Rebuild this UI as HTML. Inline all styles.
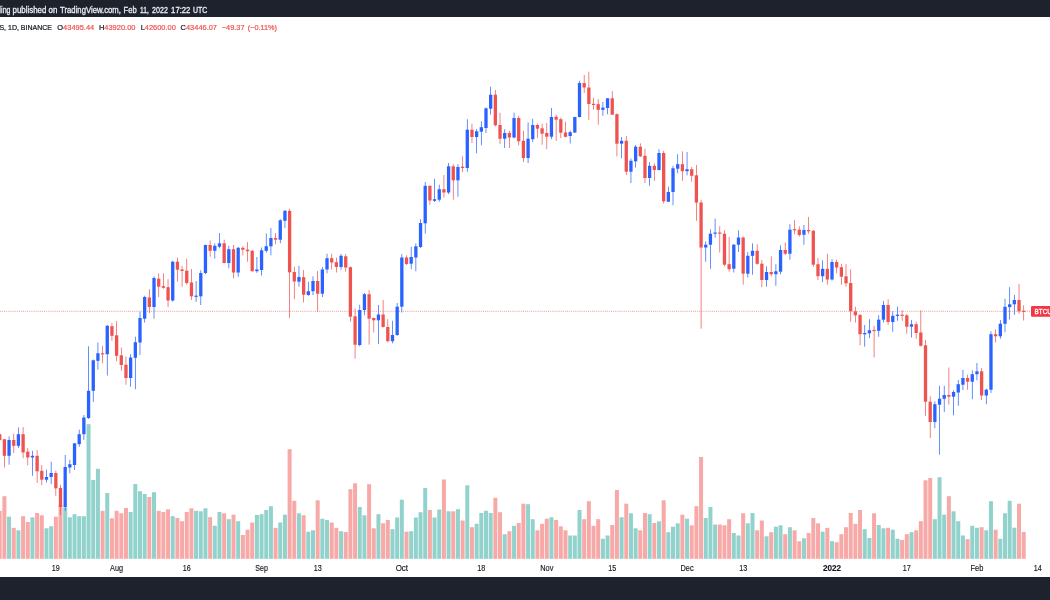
<!DOCTYPE html>
<html><head><meta charset="utf-8"><title>BTCUSD chart</title>
<style>
html,body{margin:0;padding:0;background:#fff;}
body{width:1050px;height:600px;overflow:hidden;position:relative;font-family:"Liberation Sans",sans-serif;}
#top{position:absolute;left:0;top:0;width:1050px;height:17.3px;background:#1e222d;}
#bot{position:absolute;left:0;top:576.7px;width:1050px;height:23.3px;background:#1e222d;}
svg{position:absolute;left:0;top:0;will-change:transform;}
svg .hd text{font-size:8.4px;fill:#eceef2;stroke:#eceef2;stroke-width:0.3px;}
svg .lg text{stroke:#131722;stroke-width:0.22px;}
svg .lg .r{stroke:#ef5350;}
svg .r{fill:#ef5350;}
svg .xl text{font-size:8.3px;stroke:#131722;stroke-width:0.15px;}
svg .tg text{font-size:7.7px;fill:#fff;stroke:#fff;stroke-width:0.3px;}
svg text{font-family:"Liberation Sans",sans-serif;font-size:7.6px;fill:#131722;}
</style></head><body>
<div id="top"></div>
<svg width="1050" height="600" viewBox="0 0 1050 600">
<defs><filter id="bl" x="0" y="0" width="1050" height="600" filterUnits="userSpaceOnUse"><feGaussianBlur stdDeviation="0.32"/></filter></defs>
<g><rect x="-2.28" y="510.8" width="4" height="48" fill="#f7a9a7"/><rect x="2.4" y="496.2" width="4" height="62.6" fill="#f7a9a7"/><rect x="7.07" y="516.7" width="4" height="42.1" fill="#92d2cc"/><rect x="11.75" y="527.8" width="4" height="31" fill="#f7a9a7"/><rect x="16.42" y="530.3" width="4" height="28.5" fill="#92d2cc"/><rect x="21.1" y="516.2" width="4" height="42.6" fill="#f7a9a7"/><rect x="25.78" y="522" width="4" height="36.8" fill="#f7a9a7"/><rect x="30.45" y="517.3" width="4" height="41.5" fill="#92d2cc"/><rect x="35.13" y="513" width="4" height="45.8" fill="#f7a9a7"/><rect x="39.8" y="515.3" width="4" height="43.5" fill="#f7a9a7"/><rect x="44.48" y="528.3" width="4" height="30.5" fill="#92d2cc"/><rect x="49.15" y="526.3" width="4" height="32.5" fill="#92d2cc"/><rect x="53.83" y="516.7" width="4" height="42.1" fill="#f7a9a7"/><rect x="58.51" y="505" width="4" height="53.8" fill="#f7a9a7"/><rect x="63.18" y="507.5" width="4" height="51.3" fill="#92d2cc"/><rect x="67.86" y="517.3" width="4" height="41.5" fill="#92d2cc"/><rect x="72.53" y="514.2" width="4" height="44.6" fill="#92d2cc"/><rect x="77.21" y="516.2" width="4" height="42.6" fill="#92d2cc"/><rect x="81.88" y="516.2" width="4" height="42.6" fill="#92d2cc"/><rect x="86.56" y="424.2" width="4" height="134.6" fill="#92d2cc"/><rect x="91.24" y="480" width="4" height="78.8" fill="#92d2cc"/><rect x="95.91" y="468.8" width="4" height="90" fill="#92d2cc"/><rect x="100.59" y="510.8" width="4" height="48" fill="#f7a9a7"/><rect x="105.26" y="493" width="4" height="65.8" fill="#92d2cc"/><rect x="109.94" y="518.3" width="4" height="40.5" fill="#f7a9a7"/><rect x="114.61" y="510.8" width="4" height="48" fill="#f7a9a7"/><rect x="119.29" y="513.3" width="4" height="45.5" fill="#f7a9a7"/><rect x="123.97" y="508" width="4" height="50.8" fill="#f7a9a7"/><rect x="128.64" y="512" width="4" height="46.8" fill="#92d2cc"/><rect x="133.32" y="484" width="4" height="74.8" fill="#92d2cc"/><rect x="137.99" y="491.2" width="4" height="67.6" fill="#92d2cc"/><rect x="142.67" y="494" width="4" height="64.8" fill="#92d2cc"/><rect x="147.34" y="497" width="4" height="61.8" fill="#f7a9a7"/><rect x="152.02" y="492.2" width="4" height="66.6" fill="#92d2cc"/><rect x="156.7" y="510.8" width="4" height="48" fill="#f7a9a7"/><rect x="161.37" y="512" width="4" height="46.8" fill="#f7a9a7"/><rect x="166.05" y="509.3" width="4" height="49.5" fill="#f7a9a7"/><rect x="170.72" y="516.2" width="4" height="42.6" fill="#92d2cc"/><rect x="175.4" y="518" width="4" height="40.8" fill="#f7a9a7"/><rect x="180.07" y="521.2" width="4" height="37.6" fill="#f7a9a7"/><rect x="184.75" y="512" width="4" height="46.8" fill="#f7a9a7"/><rect x="189.43" y="508.3" width="4" height="50.5" fill="#f7a9a7"/><rect x="194.1" y="510.8" width="4" height="48" fill="#92d2cc"/><rect x="198.78" y="511.3" width="4" height="47.5" fill="#92d2cc"/><rect x="203.45" y="508.3" width="4" height="50.5" fill="#92d2cc"/><rect x="208.13" y="517.2" width="4" height="41.6" fill="#f7a9a7"/><rect x="212.8" y="525.8" width="4" height="33" fill="#92d2cc"/><rect x="217.48" y="512" width="4" height="46.8" fill="#92d2cc"/><rect x="222.16" y="513.3" width="4" height="45.5" fill="#f7a9a7"/><rect x="226.83" y="519.2" width="4" height="39.6" fill="#92d2cc"/><rect x="231.51" y="514.7" width="4" height="44.1" fill="#f7a9a7"/><rect x="236.18" y="521.2" width="4" height="37.6" fill="#92d2cc"/><rect x="240.86" y="535" width="4" height="23.8" fill="#f7a9a7"/><rect x="245.53" y="529.7" width="4" height="29.1" fill="#f7a9a7"/><rect x="250.21" y="522.5" width="4" height="36.3" fill="#f7a9a7"/><rect x="254.89" y="515" width="4" height="43.8" fill="#92d2cc"/><rect x="259.56" y="514.2" width="4" height="44.6" fill="#92d2cc"/><rect x="264.24" y="510" width="4" height="48.8" fill="#92d2cc"/><rect x="268.91" y="506.2" width="4" height="52.6" fill="#92d2cc"/><rect x="273.59" y="527.8" width="4" height="31" fill="#f7a9a7"/><rect x="278.26" y="522.5" width="4" height="36.3" fill="#92d2cc"/><rect x="282.94" y="514.7" width="4" height="44.1" fill="#92d2cc"/><rect x="287.62" y="449.2" width="4" height="109.6" fill="#f7a9a7"/><rect x="292.29" y="500.8" width="4" height="58" fill="#f7a9a7"/><rect x="296.97" y="513.3" width="4" height="45.5" fill="#92d2cc"/><rect x="301.64" y="515.3" width="4" height="43.5" fill="#f7a9a7"/><rect x="306.32" y="531.7" width="4" height="27.1" fill="#92d2cc"/><rect x="310.99" y="530.3" width="4" height="28.5" fill="#92d2cc"/><rect x="315.67" y="500.3" width="4" height="58.5" fill="#f7a9a7"/><rect x="320.35" y="518.7" width="4" height="40.1" fill="#92d2cc"/><rect x="325.02" y="520" width="4" height="38.8" fill="#92d2cc"/><rect x="329.7" y="522.5" width="4" height="36.3" fill="#f7a9a7"/><rect x="334.37" y="527.8" width="4" height="31" fill="#f7a9a7"/><rect x="339.05" y="531.2" width="4" height="27.6" fill="#92d2cc"/><rect x="343.72" y="532" width="4" height="26.8" fill="#f7a9a7"/><rect x="348.4" y="489.2" width="4" height="69.6" fill="#f7a9a7"/><rect x="353.07" y="483.3" width="4" height="75.5" fill="#f7a9a7"/><rect x="357.75" y="507" width="4" height="51.8" fill="#92d2cc"/><rect x="362.43" y="515.3" width="4" height="43.5" fill="#92d2cc"/><rect x="367.1" y="484.2" width="4" height="74.6" fill="#f7a9a7"/><rect x="371.78" y="528.3" width="4" height="30.5" fill="#f7a9a7"/><rect x="376.45" y="514.2" width="4" height="44.6" fill="#92d2cc"/><rect x="381.13" y="523.3" width="4" height="35.5" fill="#f7a9a7"/><rect x="385.8" y="520" width="4" height="38.8" fill="#f7a9a7"/><rect x="390.48" y="529.2" width="4" height="29.6" fill="#92d2cc"/><rect x="395.16" y="517.5" width="4" height="41.3" fill="#92d2cc"/><rect x="399.83" y="499.7" width="4" height="59.1" fill="#92d2cc"/><rect x="404.51" y="531.7" width="4" height="27.1" fill="#f7a9a7"/><rect x="409.18" y="531.2" width="4" height="27.6" fill="#92d2cc"/><rect x="413.86" y="517.5" width="4" height="41.3" fill="#92d2cc"/><rect x="418.53" y="512.2" width="4" height="46.6" fill="#92d2cc"/><rect x="423.21" y="488" width="4" height="70.8" fill="#92d2cc"/><rect x="427.89" y="510" width="4" height="48.8" fill="#f7a9a7"/><rect x="432.56" y="517.5" width="4" height="41.3" fill="#92d2cc"/><rect x="437.24" y="509.5" width="4" height="49.3" fill="#92d2cc"/><rect x="441.91" y="479.5" width="4" height="79.3" fill="#f7a9a7"/><rect x="446.59" y="511.3" width="4" height="47.5" fill="#92d2cc"/><rect x="451.26" y="511.3" width="4" height="47.5" fill="#f7a9a7"/><rect x="455.94" y="509.2" width="4" height="49.6" fill="#92d2cc"/><rect x="460.62" y="520.5" width="4" height="38.3" fill="#f7a9a7"/><rect x="465.29" y="485.3" width="4" height="73.5" fill="#92d2cc"/><rect x="469.97" y="527.2" width="4" height="31.6" fill="#f7a9a7"/><rect x="474.64" y="523.8" width="4" height="35" fill="#92d2cc"/><rect x="479.32" y="513" width="4" height="45.8" fill="#92d2cc"/><rect x="483.99" y="510.8" width="4" height="48" fill="#92d2cc"/><rect x="488.67" y="513" width="4" height="45.8" fill="#92d2cc"/><rect x="493.35" y="497.8" width="4" height="61" fill="#f7a9a7"/><rect x="498.02" y="512.2" width="4" height="46.6" fill="#f7a9a7"/><rect x="502.7" y="534.2" width="4" height="24.6" fill="#92d2cc"/><rect x="507.37" y="531.2" width="4" height="27.6" fill="#f7a9a7"/><rect x="512.05" y="525.8" width="4" height="33" fill="#92d2cc"/><rect x="516.72" y="523" width="4" height="35.8" fill="#f7a9a7"/><rect x="521.4" y="503.7" width="4" height="55.1" fill="#f7a9a7"/><rect x="526.08" y="504.2" width="4" height="54.6" fill="#92d2cc"/><rect x="530.75" y="519.2" width="4" height="39.6" fill="#92d2cc"/><rect x="535.43" y="530.3" width="4" height="28.5" fill="#f7a9a7"/><rect x="540.1" y="523.8" width="4" height="35" fill="#f7a9a7"/><rect x="544.78" y="518.7" width="4" height="40.1" fill="#f7a9a7"/><rect x="549.45" y="517.2" width="4" height="41.6" fill="#92d2cc"/><rect x="554.13" y="520" width="4" height="38.8" fill="#f7a9a7"/><rect x="558.81" y="526.3" width="4" height="32.5" fill="#f7a9a7"/><rect x="563.48" y="530.3" width="4" height="28.5" fill="#f7a9a7"/><rect x="568.16" y="535.5" width="4" height="23.3" fill="#92d2cc"/><rect x="572.83" y="535.5" width="4" height="23.3" fill="#92d2cc"/><rect x="577.51" y="510" width="4" height="48.8" fill="#92d2cc"/><rect x="582.18" y="519.2" width="4" height="39.6" fill="#f7a9a7"/><rect x="586.86" y="501.2" width="4" height="57.6" fill="#f7a9a7"/><rect x="591.54" y="525.8" width="4" height="33" fill="#f7a9a7"/><rect x="596.21" y="519.2" width="4" height="39.6" fill="#f7a9a7"/><rect x="600.89" y="538.8" width="4" height="20" fill="#92d2cc"/><rect x="605.56" y="535.5" width="4" height="23.3" fill="#92d2cc"/><rect x="610.24" y="525" width="4" height="33.8" fill="#f7a9a7"/><rect x="614.91" y="490" width="4" height="68.8" fill="#f7a9a7"/><rect x="619.59" y="517.2" width="4" height="41.6" fill="#92d2cc"/><rect x="624.27" y="503.7" width="4" height="55.1" fill="#f7a9a7"/><rect x="628.94" y="513.3" width="4" height="45.5" fill="#92d2cc"/><rect x="633.62" y="528.3" width="4" height="30.5" fill="#92d2cc"/><rect x="638.29" y="530.3" width="4" height="28.5" fill="#f7a9a7"/><rect x="642.97" y="513" width="4" height="45.8" fill="#f7a9a7"/><rect x="647.64" y="514.2" width="4" height="44.6" fill="#92d2cc"/><rect x="652.32" y="523" width="4" height="35.8" fill="#f7a9a7"/><rect x="657" y="521.3" width="4" height="37.5" fill="#92d2cc"/><rect x="661.67" y="500.3" width="4" height="58.5" fill="#f7a9a7"/><rect x="666.35" y="532.2" width="4" height="26.6" fill="#92d2cc"/><rect x="671.02" y="526.7" width="4" height="32.1" fill="#92d2cc"/><rect x="675.7" y="523.3" width="4" height="35.5" fill="#92d2cc"/><rect x="680.37" y="514.7" width="4" height="44.1" fill="#f7a9a7"/><rect x="685.05" y="518.7" width="4" height="40.1" fill="#92d2cc"/><rect x="689.73" y="525.3" width="4" height="33.5" fill="#f7a9a7"/><rect x="694.4" y="506.2" width="4" height="52.6" fill="#f7a9a7"/><rect x="699.08" y="457" width="4" height="101.8" fill="#f7a9a7"/><rect x="703.75" y="518" width="4" height="40.8" fill="#92d2cc"/><rect x="708.43" y="507" width="4" height="51.8" fill="#92d2cc"/><rect x="713.1" y="524.5" width="4" height="34.3" fill="#92d2cc"/><rect x="717.78" y="524.5" width="4" height="34.3" fill="#f7a9a7"/><rect x="722.46" y="525.3" width="4" height="33.5" fill="#f7a9a7"/><rect x="727.13" y="519.2" width="4" height="39.6" fill="#f7a9a7"/><rect x="731.81" y="533" width="4" height="25.8" fill="#92d2cc"/><rect x="736.48" y="535.5" width="4" height="23.3" fill="#92d2cc"/><rect x="741.16" y="513.3" width="4" height="45.5" fill="#f7a9a7"/><rect x="745.83" y="523.3" width="4" height="35.5" fill="#92d2cc"/><rect x="750.51" y="513" width="4" height="45.8" fill="#92d2cc"/><rect x="755.19" y="530.3" width="4" height="28.5" fill="#f7a9a7"/><rect x="759.86" y="520.5" width="4" height="38.3" fill="#f7a9a7"/><rect x="764.54" y="536.3" width="4" height="22.5" fill="#92d2cc"/><rect x="769.21" y="532.2" width="4" height="26.6" fill="#f7a9a7"/><rect x="773.89" y="526.7" width="4" height="32.1" fill="#92d2cc"/><rect x="778.56" y="525.3" width="4" height="33.5" fill="#92d2cc"/><rect x="783.24" y="534.2" width="4" height="24.6" fill="#f7a9a7"/><rect x="787.92" y="527.2" width="4" height="31.6" fill="#92d2cc"/><rect x="792.59" y="530.3" width="4" height="28.5" fill="#f7a9a7"/><rect x="797.27" y="541.3" width="4" height="17.5" fill="#f7a9a7"/><rect x="801.94" y="538.3" width="4" height="20.5" fill="#92d2cc"/><rect x="806.62" y="533" width="4" height="25.8" fill="#f7a9a7"/><rect x="811.29" y="518" width="4" height="40.8" fill="#f7a9a7"/><rect x="815.97" y="523.3" width="4" height="35.5" fill="#f7a9a7"/><rect x="820.64" y="531.7" width="4" height="27.1" fill="#92d2cc"/><rect x="825.32" y="527.8" width="4" height="31" fill="#f7a9a7"/><rect x="830" y="541.2" width="4" height="17.6" fill="#92d2cc"/><rect x="834.67" y="542.2" width="4" height="16.6" fill="#f7a9a7"/><rect x="839.35" y="534.2" width="4" height="24.6" fill="#f7a9a7"/><rect x="844.02" y="527.2" width="4" height="31.6" fill="#f7a9a7"/><rect x="848.7" y="513" width="4" height="45.8" fill="#f7a9a7"/><rect x="853.37" y="523.8" width="4" height="35" fill="#f7a9a7"/><rect x="858.05" y="510" width="4" height="48.8" fill="#f7a9a7"/><rect x="862.73" y="529.2" width="4" height="29.6" fill="#92d2cc"/><rect x="867.4" y="538" width="4" height="20.8" fill="#92d2cc"/><rect x="872.08" y="513.3" width="4" height="45.5" fill="#f7a9a7"/><rect x="876.75" y="525" width="4" height="33.8" fill="#92d2cc"/><rect x="881.43" y="528.3" width="4" height="30.5" fill="#92d2cc"/><rect x="886.1" y="527.8" width="4" height="31" fill="#f7a9a7"/><rect x="890.78" y="529.7" width="4" height="29.1" fill="#92d2cc"/><rect x="895.46" y="538.8" width="4" height="20" fill="#92d2cc"/><rect x="900.13" y="540" width="4" height="18.8" fill="#f7a9a7"/><rect x="904.81" y="534.2" width="4" height="24.6" fill="#f7a9a7"/><rect x="909.48" y="532.2" width="4" height="26.6" fill="#92d2cc"/><rect x="914.16" y="530.3" width="4" height="28.5" fill="#f7a9a7"/><rect x="918.83" y="521.2" width="4" height="37.6" fill="#f7a9a7"/><rect x="923.51" y="480.3" width="4" height="78.5" fill="#f7a9a7"/><rect x="928.19" y="478" width="4" height="80.8" fill="#f7a9a7"/><rect x="932.86" y="519.2" width="4" height="39.6" fill="#92d2cc"/><rect x="937.54" y="477.2" width="4" height="81.6" fill="#92d2cc"/><rect x="942.21" y="514.7" width="4" height="44.1" fill="#92d2cc"/><rect x="946.89" y="496.2" width="4" height="62.6" fill="#f7a9a7"/><rect x="951.56" y="511.3" width="4" height="47.5" fill="#92d2cc"/><rect x="956.24" y="521.2" width="4" height="37.6" fill="#92d2cc"/><rect x="960.92" y="535.5" width="4" height="23.3" fill="#92d2cc"/><rect x="965.59" y="539.2" width="4" height="19.6" fill="#f7a9a7"/><rect x="970.27" y="525.8" width="4" height="33" fill="#92d2cc"/><rect x="974.94" y="527.8" width="4" height="31" fill="#92d2cc"/><rect x="979.62" y="527.2" width="4" height="31.6" fill="#f7a9a7"/><rect x="984.29" y="530.3" width="4" height="28.5" fill="#92d2cc"/><rect x="988.97" y="501.2" width="4" height="57.6" fill="#92d2cc"/><rect x="993.65" y="529.7" width="4" height="29.1" fill="#f7a9a7"/><rect x="998.32" y="538.8" width="4" height="20" fill="#92d2cc"/><rect x="1003" y="513.2" width="4" height="45.6" fill="#92d2cc"/><rect x="1007.67" y="500.8" width="4" height="58" fill="#92d2cc"/><rect x="1012.35" y="527.7" width="4" height="31.1" fill="#92d2cc"/><rect x="1017.02" y="503.7" width="4" height="55.1" fill="#f7a9a7"/><rect x="1021.7" y="532" width="4" height="26.8" fill="#f7a9a7"/></g>
<line x1="0" y1="311.3" x2="1031" y2="311.3" stroke="#ef5350" stroke-opacity="0.75" stroke-width="0.9" stroke-dasharray="0.9 1.2"/>
<g filter="url(#bl)"><g><rect x="-0.64" y="432" width="0.72" height="10" fill="#ef5350"/><rect x="4.04" y="439.2" width="0.72" height="28.3" fill="#ef5350"/><rect x="8.71" y="436.3" width="0.72" height="28.4" fill="#2962ff"/><rect x="13.39" y="433.7" width="0.72" height="19.3" fill="#ef5350"/><rect x="18.06" y="427.5" width="0.72" height="20.5" fill="#2962ff"/><rect x="22.74" y="427" width="0.72" height="31.3" fill="#ef5350"/><rect x="27.42" y="448" width="0.72" height="17.3" fill="#ef5350"/><rect x="32.09" y="450.8" width="0.72" height="25" fill="#2962ff"/><rect x="36.77" y="450" width="0.72" height="33" fill="#ef5350"/><rect x="41.44" y="465" width="0.72" height="20" fill="#ef5350"/><rect x="46.12" y="469.7" width="0.72" height="12.8" fill="#2962ff"/><rect x="50.79" y="461.7" width="0.72" height="22.5" fill="#2962ff"/><rect x="55.47" y="470.8" width="0.72" height="25" fill="#ef5350"/><rect x="60.15" y="484.7" width="0.72" height="30.3" fill="#ef5350"/><rect x="64.82" y="455" width="0.72" height="55.8" fill="#2962ff"/><rect x="69.5" y="459.7" width="0.72" height="13.6" fill="#2962ff"/><rect x="74.17" y="443.3" width="0.72" height="26.7" fill="#2962ff"/><rect x="78.85" y="429.7" width="0.72" height="17" fill="#2962ff"/><rect x="83.52" y="415" width="0.72" height="25" fill="#2962ff"/><rect x="88.2" y="346.3" width="0.72" height="72.7" fill="#2962ff"/><rect x="92.88" y="359.5" width="0.72" height="42.5" fill="#2962ff"/><rect x="97.55" y="342.5" width="0.72" height="27.2" fill="#2962ff"/><rect x="102.23" y="345.8" width="0.72" height="17.5" fill="#ef5350"/><rect x="106.9" y="325" width="0.72" height="50.5" fill="#2962ff"/><rect x="111.58" y="323" width="0.72" height="17.8" fill="#ef5350"/><rect x="116.25" y="321.3" width="0.72" height="40" fill="#ef5350"/><rect x="120.93" y="347.6" width="0.72" height="23.2" fill="#ef5350"/><rect x="125.61" y="356.5" width="0.72" height="28.2" fill="#ef5350"/><rect x="130.28" y="354.2" width="0.72" height="32.5" fill="#2962ff"/><rect x="134.96" y="336.7" width="0.72" height="52.5" fill="#2962ff"/><rect x="139.63" y="311.7" width="0.72" height="43.3" fill="#2962ff"/><rect x="144.31" y="295.8" width="0.72" height="26.7" fill="#2962ff"/><rect x="148.98" y="289.2" width="0.72" height="23.8" fill="#ef5350"/><rect x="153.66" y="276.3" width="0.72" height="42.4" fill="#2962ff"/><rect x="158.34" y="273.3" width="0.72" height="23.7" fill="#ef5350"/><rect x="163.01" y="273.3" width="0.72" height="15.4" fill="#ef5350"/><rect x="167.69" y="279.2" width="0.72" height="27.8" fill="#ef5350"/><rect x="172.36" y="260.8" width="0.72" height="40.9" fill="#2962ff"/><rect x="177.04" y="257.5" width="0.72" height="24" fill="#ef5350"/><rect x="181.71" y="265.8" width="0.72" height="20.9" fill="#ef5350"/><rect x="186.39" y="258.7" width="0.72" height="26" fill="#ef5350"/><rect x="191.07" y="269" width="0.72" height="31" fill="#ef5350"/><rect x="195.74" y="281" width="0.72" height="20.7" fill="#2962ff"/><rect x="200.42" y="270.2" width="0.72" height="34.8" fill="#2962ff"/><rect x="205.09" y="244.7" width="0.72" height="29.5" fill="#2962ff"/><rect x="209.77" y="240.5" width="0.72" height="16.2" fill="#ef5350"/><rect x="214.44" y="243.3" width="0.72" height="15.4" fill="#2962ff"/><rect x="219.12" y="233" width="0.72" height="15.3" fill="#2962ff"/><rect x="223.8" y="239.7" width="0.72" height="23.6" fill="#ef5350"/><rect x="228.47" y="245.8" width="0.72" height="22.5" fill="#2962ff"/><rect x="233.15" y="245" width="0.72" height="33.3" fill="#ef5350"/><rect x="237.82" y="247" width="0.72" height="29.7" fill="#2962ff"/><rect x="242.5" y="246.2" width="0.72" height="9.1" fill="#ef5350"/><rect x="247.17" y="242" width="0.72" height="19.7" fill="#ef5350"/><rect x="251.85" y="250" width="0.72" height="21.7" fill="#ef5350"/><rect x="256.53" y="257" width="0.72" height="15.8" fill="#2962ff"/><rect x="261.2" y="247.5" width="0.72" height="28" fill="#2962ff"/><rect x="265.88" y="233.3" width="0.72" height="19.2" fill="#2962ff"/><rect x="270.55" y="228" width="0.72" height="27.3" fill="#2962ff"/><rect x="275.23" y="233" width="0.72" height="11.2" fill="#ef5350"/><rect x="279.9" y="219.2" width="0.72" height="24.1" fill="#2962ff"/><rect x="284.58" y="210" width="0.72" height="18" fill="#2962ff"/><rect x="289.26" y="208.7" width="0.72" height="109.3" fill="#ef5350"/><rect x="293.93" y="266.8" width="0.72" height="32.4" fill="#ef5350"/><rect x="298.61" y="265.8" width="0.72" height="20.9" fill="#2962ff"/><rect x="303.28" y="270" width="0.72" height="32.5" fill="#ef5350"/><rect x="307.96" y="281.7" width="0.72" height="14.1" fill="#2962ff"/><rect x="312.63" y="276.3" width="0.72" height="18.7" fill="#2962ff"/><rect x="317.31" y="271" width="0.72" height="40.7" fill="#ef5350"/><rect x="321.99" y="267" width="0.72" height="30" fill="#2962ff"/><rect x="326.66" y="253.7" width="0.72" height="19.6" fill="#2962ff"/><rect x="331.34" y="253.7" width="0.72" height="15.8" fill="#ef5350"/><rect x="336.01" y="257.5" width="0.72" height="15" fill="#ef5350"/><rect x="340.69" y="254" width="0.72" height="15.7" fill="#2962ff"/><rect x="345.36" y="254" width="0.72" height="17.7" fill="#ef5350"/><rect x="350.04" y="266.5" width="0.72" height="55.2" fill="#ef5350"/><rect x="354.71" y="308.3" width="0.72" height="50.4" fill="#ef5350"/><rect x="359.39" y="304.7" width="0.72" height="41.6" fill="#2962ff"/><rect x="364.07" y="293" width="0.72" height="22.3" fill="#2962ff"/><rect x="368.74" y="290" width="0.72" height="54.7" fill="#ef5350"/><rect x="373.42" y="317.5" width="0.72" height="15" fill="#ef5350"/><rect x="378.09" y="305" width="0.72" height="39.2" fill="#2962ff"/><rect x="382.77" y="300" width="0.72" height="27.5" fill="#ef5350"/><rect x="387.44" y="319.2" width="0.72" height="23.3" fill="#ef5350"/><rect x="392.12" y="320.8" width="0.72" height="22.5" fill="#2962ff"/><rect x="396.8" y="303" width="0.72" height="32.8" fill="#2962ff"/><rect x="401.47" y="254.2" width="0.72" height="58.3" fill="#2962ff"/><rect x="406.15" y="255.3" width="0.72" height="9.7" fill="#ef5350"/><rect x="410.82" y="246.7" width="0.72" height="22.5" fill="#2962ff"/><rect x="415.5" y="243.3" width="0.72" height="28" fill="#2962ff"/><rect x="420.17" y="219.2" width="0.72" height="28.8" fill="#2962ff"/><rect x="424.85" y="182" width="0.72" height="51.7" fill="#2962ff"/><rect x="429.53" y="185.3" width="0.72" height="19.4" fill="#ef5350"/><rect x="434.2" y="178.7" width="0.72" height="23.3" fill="#2962ff"/><rect x="438.88" y="184.7" width="0.72" height="17" fill="#2962ff"/><rect x="443.55" y="175" width="0.72" height="22.5" fill="#ef5350"/><rect x="448.23" y="163" width="0.72" height="31.2" fill="#2962ff"/><rect x="452.9" y="164.2" width="0.72" height="35.5" fill="#ef5350"/><rect x="457.58" y="164.2" width="0.72" height="32.5" fill="#2962ff"/><rect x="462.26" y="156.3" width="0.72" height="15.7" fill="#ef5350"/><rect x="466.93" y="119.2" width="0.72" height="52.5" fill="#2962ff"/><rect x="471.61" y="123.7" width="0.72" height="19.3" fill="#ef5350"/><rect x="476.28" y="129.2" width="0.72" height="24.1" fill="#2962ff"/><rect x="480.96" y="121.3" width="0.72" height="24" fill="#2962ff"/><rect x="485.63" y="107.5" width="0.72" height="25.5" fill="#2962ff"/><rect x="490.31" y="86.7" width="0.72" height="28" fill="#2962ff"/><rect x="494.99" y="90" width="0.72" height="36.3" fill="#ef5350"/><rect x="499.66" y="112.8" width="0.72" height="31.4" fill="#ef5350"/><rect x="504.34" y="129.2" width="0.72" height="18.8" fill="#2962ff"/><rect x="509.01" y="130.8" width="0.72" height="17.2" fill="#ef5350"/><rect x="513.69" y="112.8" width="0.72" height="25.5" fill="#2962ff"/><rect x="518.36" y="115.8" width="0.72" height="29.5" fill="#ef5350"/><rect x="523.04" y="130.8" width="0.72" height="31.2" fill="#ef5350"/><rect x="527.72" y="122.5" width="0.72" height="40.5" fill="#2962ff"/><rect x="532.39" y="118.7" width="0.72" height="23.3" fill="#2962ff"/><rect x="537.07" y="123.7" width="0.72" height="14.3" fill="#ef5350"/><rect x="541.74" y="123.7" width="0.72" height="21" fill="#ef5350"/><rect x="546.42" y="123" width="0.72" height="26.2" fill="#ef5350"/><rect x="551.09" y="108" width="0.72" height="31.2" fill="#2962ff"/><rect x="555.77" y="114.7" width="0.72" height="26.1" fill="#ef5350"/><rect x="560.45" y="117.5" width="0.72" height="20.5" fill="#ef5350"/><rect x="565.12" y="121.8" width="0.72" height="15.7" fill="#ef5350"/><rect x="569.8" y="130.5" width="0.72" height="13" fill="#2962ff"/><rect x="574.47" y="116.7" width="0.72" height="16.3" fill="#2962ff"/><rect x="579.15" y="80.8" width="0.72" height="36.7" fill="#2962ff"/><rect x="583.82" y="75" width="0.72" height="18" fill="#ef5350"/><rect x="588.5" y="71.7" width="0.72" height="48.1" fill="#ef5350"/><rect x="593.18" y="97.7" width="0.72" height="12" fill="#ef5350"/><rect x="597.85" y="99.2" width="0.72" height="25.5" fill="#ef5350"/><rect x="602.53" y="102" width="0.72" height="13.8" fill="#2962ff"/><rect x="607.2" y="98" width="0.72" height="16.2" fill="#2962ff"/><rect x="611.88" y="91.2" width="0.72" height="23.8" fill="#ef5350"/><rect x="616.55" y="113.3" width="0.72" height="43.2" fill="#ef5350"/><rect x="621.23" y="137" width="0.72" height="21.3" fill="#2962ff"/><rect x="625.91" y="135.8" width="0.72" height="39.2" fill="#ef5350"/><rect x="630.58" y="158.5" width="0.72" height="24.5" fill="#2962ff"/><rect x="635.26" y="145" width="0.72" height="22.5" fill="#2962ff"/><rect x="639.93" y="143.3" width="0.72" height="13.7" fill="#ef5350"/><rect x="644.61" y="148.7" width="0.72" height="34.3" fill="#ef5350"/><rect x="649.28" y="162" width="0.72" height="23.8" fill="#2962ff"/><rect x="653.96" y="163.3" width="0.72" height="17.5" fill="#ef5350"/><rect x="658.64" y="149.2" width="0.72" height="21.3" fill="#2962ff"/><rect x="663.31" y="150.8" width="0.72" height="52.5" fill="#ef5350"/><rect x="667.99" y="186.7" width="0.72" height="15.3" fill="#2962ff"/><rect x="672.66" y="165.8" width="0.72" height="39.5" fill="#2962ff"/><rect x="677.34" y="154.2" width="0.72" height="19.1" fill="#2962ff"/><rect x="682.01" y="151.3" width="0.72" height="29.5" fill="#ef5350"/><rect x="686.69" y="152" width="0.72" height="23.3" fill="#2962ff"/><rect x="691.37" y="167" width="0.72" height="14.7" fill="#ef5350"/><rect x="696.04" y="165" width="0.72" height="55.8" fill="#ef5350"/><rect x="700.72" y="199.7" width="0.72" height="129" fill="#ef5350"/><rect x="705.39" y="241.3" width="0.72" height="20.4" fill="#2962ff"/><rect x="710.07" y="229.2" width="0.72" height="39.5" fill="#2962ff"/><rect x="714.74" y="218.7" width="0.72" height="18.8" fill="#2962ff"/><rect x="719.42" y="226.3" width="0.72" height="26.2" fill="#ef5350"/><rect x="724.1" y="230.3" width="0.72" height="36" fill="#ef5350"/><rect x="728.77" y="237" width="0.72" height="34.7" fill="#ef5350"/><rect x="733.45" y="244" width="0.72" height="28.5" fill="#2962ff"/><rect x="738.12" y="230.3" width="0.72" height="21.7" fill="#2962ff"/><rect x="742.8" y="236.5" width="0.72" height="48.2" fill="#ef5350"/><rect x="747.47" y="252" width="0.72" height="25.5" fill="#2962ff"/><rect x="752.15" y="243.3" width="0.72" height="31.4" fill="#2962ff"/><rect x="756.83" y="244.2" width="0.72" height="20.5" fill="#ef5350"/><rect x="761.5" y="260" width="0.72" height="27.2" fill="#ef5350"/><rect x="766.18" y="266.3" width="0.72" height="20.4" fill="#2962ff"/><rect x="770.85" y="256.3" width="0.72" height="20" fill="#ef5350"/><rect x="775.53" y="264.2" width="0.72" height="21.6" fill="#2962ff"/><rect x="780.2" y="245.3" width="0.72" height="28.9" fill="#2962ff"/><rect x="784.88" y="242.5" width="0.72" height="12.5" fill="#ef5350"/><rect x="789.56" y="224.2" width="0.72" height="35.5" fill="#2962ff"/><rect x="794.23" y="220" width="0.72" height="14.2" fill="#ef5350"/><rect x="798.91" y="226.3" width="0.72" height="10.4" fill="#ef5350"/><rect x="803.58" y="225" width="0.72" height="19.7" fill="#2962ff"/><rect x="808.26" y="217" width="0.72" height="16.7" fill="#ef5350"/><rect x="812.93" y="230" width="0.72" height="36.7" fill="#ef5350"/><rect x="817.61" y="258" width="0.72" height="22" fill="#ef5350"/><rect x="822.28" y="260.3" width="0.72" height="21.7" fill="#2962ff"/><rect x="826.96" y="253.7" width="0.72" height="31" fill="#ef5350"/><rect x="831.64" y="259.2" width="0.72" height="21.3" fill="#2962ff"/><rect x="836.31" y="259.7" width="0.72" height="13.6" fill="#ef5350"/><rect x="840.99" y="263.7" width="0.72" height="21" fill="#ef5350"/><rect x="845.66" y="264.2" width="0.72" height="22.5" fill="#ef5350"/><rect x="850.34" y="269.2" width="0.72" height="52.5" fill="#ef5350"/><rect x="855.01" y="306.7" width="0.72" height="15.8" fill="#ef5350"/><rect x="859.69" y="314" width="0.72" height="31.3" fill="#ef5350"/><rect x="864.37" y="325" width="0.72" height="21.7" fill="#2962ff"/><rect x="869.04" y="319.2" width="0.72" height="18.8" fill="#2962ff"/><rect x="873.72" y="325.8" width="0.72" height="31.7" fill="#ef5350"/><rect x="878.39" y="315.3" width="0.72" height="21.4" fill="#2962ff"/><rect x="883.07" y="300.8" width="0.72" height="21.7" fill="#2962ff"/><rect x="887.74" y="299.2" width="0.72" height="25.5" fill="#ef5350"/><rect x="892.42" y="311.3" width="0.72" height="20.4" fill="#2962ff"/><rect x="897.1" y="306.7" width="0.72" height="14.1" fill="#2962ff"/><rect x="901.77" y="310.3" width="0.72" height="10.5" fill="#ef5350"/><rect x="906.45" y="314.2" width="0.72" height="19.5" fill="#ef5350"/><rect x="911.12" y="320" width="0.72" height="17.5" fill="#2962ff"/><rect x="915.8" y="321.7" width="0.72" height="17" fill="#ef5350"/><rect x="920.47" y="310.3" width="0.72" height="36.2" fill="#ef5350"/><rect x="925.15" y="340" width="0.72" height="75.8" fill="#ef5350"/><rect x="929.83" y="396.3" width="0.72" height="41.7" fill="#ef5350"/><rect x="934.5" y="401.3" width="0.72" height="27" fill="#2962ff"/><rect x="939.18" y="385.8" width="0.72" height="68.9" fill="#2962ff"/><rect x="943.85" y="385.8" width="0.72" height="26.2" fill="#2962ff"/><rect x="948.53" y="367.5" width="0.72" height="37.2" fill="#ef5350"/><rect x="953.2" y="390.3" width="0.72" height="25" fill="#2962ff"/><rect x="957.88" y="380" width="0.72" height="25.8" fill="#2962ff"/><rect x="962.56" y="370" width="0.72" height="20" fill="#2962ff"/><rect x="967.23" y="374.7" width="0.72" height="15" fill="#ef5350"/><rect x="971.91" y="370.3" width="0.72" height="28.9" fill="#2962ff"/><rect x="976.58" y="363" width="0.72" height="17.3" fill="#2962ff"/><rect x="981.26" y="368" width="0.72" height="32" fill="#ef5350"/><rect x="985.93" y="388.7" width="0.72" height="15.5" fill="#2962ff"/><rect x="990.61" y="331.3" width="0.72" height="61.7" fill="#2962ff"/><rect x="995.29" y="329.2" width="0.72" height="13.3" fill="#ef5350"/><rect x="999.96" y="320" width="0.72" height="18.7" fill="#2962ff"/><rect x="1004.64" y="298.8" width="0.72" height="33.5" fill="#2962ff"/><rect x="1009.31" y="287.1" width="0.72" height="32.4" fill="#2962ff"/><rect x="1013.99" y="294.8" width="0.72" height="20" fill="#2962ff"/><rect x="1018.66" y="284" width="0.72" height="29.8" fill="#ef5350"/><rect x="1023.34" y="305.2" width="0.72" height="15.3" fill="#ef5350"/></g>
<g><rect x="-1.93" y="434.2" width="3.3" height="5.8" fill="#ef5350"/><rect x="2.75" y="439.2" width="3.3" height="16.6" fill="#ef5350"/><rect x="7.42" y="440" width="3.3" height="15.8" fill="#2962ff"/><rect x="12.1" y="440" width="3.3" height="5.8" fill="#ef5350"/><rect x="16.77" y="434.2" width="3.3" height="11.6" fill="#2962ff"/><rect x="21.45" y="434.2" width="3.3" height="18.3" fill="#ef5350"/><rect x="26.13" y="451.7" width="3.3" height="5.8" fill="#ef5350"/><rect x="30.8" y="455.8" width="3.3" height="1.7" fill="#2962ff"/><rect x="35.48" y="455.8" width="3.3" height="15.5" fill="#ef5350"/><rect x="40.15" y="470.8" width="3.3" height="8.9" fill="#ef5350"/><rect x="44.83" y="477" width="3.3" height="2.7" fill="#2962ff"/><rect x="49.5" y="473" width="3.3" height="4" fill="#2962ff"/><rect x="54.18" y="473" width="3.3" height="15.3" fill="#ef5350"/><rect x="58.86" y="488" width="3.3" height="19" fill="#ef5350"/><rect x="63.53" y="467" width="3.3" height="40" fill="#2962ff"/><rect x="68.21" y="464.2" width="3.3" height="3.3" fill="#2962ff"/><rect x="72.88" y="443.3" width="3.3" height="21.7" fill="#2962ff"/><rect x="77.56" y="434.2" width="3.3" height="10" fill="#2962ff"/><rect x="82.23" y="417.5" width="3.3" height="16.7" fill="#2962ff"/><rect x="86.91" y="390.8" width="3.3" height="27.2" fill="#2962ff"/><rect x="91.59" y="360.3" width="3.3" height="30.5" fill="#2962ff"/><rect x="96.26" y="353.3" width="3.3" height="7.5" fill="#2962ff"/><rect x="100.94" y="353.2" width="3.3" height="1.2" fill="#ef5350"/><rect x="105.61" y="325.8" width="3.3" height="28.4" fill="#2962ff"/><rect x="110.29" y="326.2" width="3.3" height="9.6" fill="#ef5350"/><rect x="114.96" y="335.3" width="3.3" height="20.5" fill="#ef5350"/><rect x="119.64" y="355.3" width="3.3" height="9.7" fill="#ef5350"/><rect x="124.32" y="364.7" width="3.3" height="13.3" fill="#ef5350"/><rect x="128.99" y="357.5" width="3.3" height="20.5" fill="#2962ff"/><rect x="133.67" y="342.2" width="3.3" height="15.6" fill="#2962ff"/><rect x="138.34" y="318" width="3.3" height="24.5" fill="#2962ff"/><rect x="143.02" y="297" width="3.3" height="21.7" fill="#2962ff"/><rect x="147.69" y="297.5" width="3.3" height="9.5" fill="#ef5350"/><rect x="152.37" y="278" width="3.3" height="29" fill="#2962ff"/><rect x="157.05" y="278.7" width="3.3" height="8" fill="#ef5350"/><rect x="161.72" y="286.2" width="3.3" height="1.6" fill="#ef5350"/><rect x="166.4" y="287.2" width="3.3" height="13.3" fill="#ef5350"/><rect x="171.07" y="261.7" width="3.3" height="38.8" fill="#2962ff"/><rect x="175.75" y="261.7" width="3.3" height="8" fill="#ef5350"/><rect x="180.42" y="269.5" width="3.3" height="1.5" fill="#ef5350"/><rect x="185.1" y="270.7" width="3.3" height="12.3" fill="#ef5350"/><rect x="189.78" y="282.5" width="3.3" height="13.8" fill="#ef5350"/><rect x="194.45" y="295.65" width="3.3" height="1.2" fill="#2962ff"/><rect x="199.13" y="273" width="3.3" height="23.3" fill="#2962ff"/><rect x="203.8" y="245" width="3.3" height="28" fill="#2962ff"/><rect x="208.48" y="245" width="3.3" height="5.8" fill="#ef5350"/><rect x="213.15" y="245.8" width="3.3" height="5" fill="#2962ff"/><rect x="217.83" y="243.3" width="3.3" height="3.4" fill="#2962ff"/><rect x="222.51" y="243.3" width="3.3" height="19.7" fill="#ef5350"/><rect x="227.18" y="249.2" width="3.3" height="13.8" fill="#2962ff"/><rect x="231.86" y="249.2" width="3.3" height="23.3" fill="#ef5350"/><rect x="236.53" y="247.8" width="3.3" height="24.7" fill="#2962ff"/><rect x="241.21" y="247.8" width="3.3" height="1.9" fill="#ef5350"/><rect x="245.88" y="249.7" width="3.3" height="1.6" fill="#ef5350"/><rect x="250.56" y="250.8" width="3.3" height="20.4" fill="#ef5350"/><rect x="255.24" y="269.5" width="3.3" height="1.7" fill="#2962ff"/><rect x="259.91" y="250.3" width="3.3" height="19.7" fill="#2962ff"/><rect x="264.59" y="246.2" width="3.3" height="4.6" fill="#2962ff"/><rect x="269.26" y="238" width="3.3" height="8.3" fill="#2962ff"/><rect x="273.94" y="238" width="3.3" height="1.7" fill="#ef5350"/><rect x="278.61" y="220.3" width="3.3" height="19.4" fill="#2962ff"/><rect x="283.29" y="210.8" width="3.3" height="10" fill="#2962ff"/><rect x="287.97" y="210.8" width="3.3" height="61.5" fill="#ef5350"/><rect x="292.64" y="272" width="3.3" height="9.5" fill="#ef5350"/><rect x="297.32" y="277" width="3.3" height="4.7" fill="#2962ff"/><rect x="301.99" y="277.2" width="3.3" height="17.5" fill="#ef5350"/><rect x="306.67" y="291.2" width="3.3" height="3.8" fill="#2962ff"/><rect x="311.34" y="281" width="3.3" height="10.2" fill="#2962ff"/><rect x="316.02" y="281" width="3.3" height="12.7" fill="#ef5350"/><rect x="320.7" y="269.5" width="3.3" height="24.2" fill="#2962ff"/><rect x="325.37" y="258.2" width="3.3" height="11.3" fill="#2962ff"/><rect x="330.05" y="258.2" width="3.3" height="4.3" fill="#ef5350"/><rect x="334.72" y="262.2" width="3.3" height="4.8" fill="#ef5350"/><rect x="339.4" y="255.8" width="3.3" height="11.2" fill="#2962ff"/><rect x="344.07" y="256.3" width="3.3" height="11.2" fill="#ef5350"/><rect x="348.75" y="267.2" width="3.3" height="49.5" fill="#ef5350"/><rect x="353.42" y="316.3" width="3.3" height="28.4" fill="#ef5350"/><rect x="358.1" y="310" width="3.3" height="35" fill="#2962ff"/><rect x="362.78" y="294.2" width="3.3" height="15.8" fill="#2962ff"/><rect x="367.45" y="294.2" width="3.3" height="24.5" fill="#ef5350"/><rect x="372.13" y="318" width="3.3" height="2.3" fill="#ef5350"/><rect x="376.8" y="314.5" width="3.3" height="5.8" fill="#2962ff"/><rect x="381.48" y="314.5" width="3.3" height="12.5" fill="#ef5350"/><rect x="386.15" y="327" width="3.3" height="14.2" fill="#ef5350"/><rect x="390.83" y="335" width="3.3" height="6.2" fill="#2962ff"/><rect x="395.51" y="306.7" width="3.3" height="28.3" fill="#2962ff"/><rect x="400.18" y="257.5" width="3.3" height="49.2" fill="#2962ff"/><rect x="404.86" y="257.5" width="3.3" height="6.5" fill="#ef5350"/><rect x="409.53" y="257" width="3.3" height="6.7" fill="#2962ff"/><rect x="414.21" y="246.3" width="3.3" height="11.2" fill="#2962ff"/><rect x="418.88" y="223" width="3.3" height="24" fill="#2962ff"/><rect x="423.56" y="185.8" width="3.3" height="37.5" fill="#2962ff"/><rect x="428.24" y="185.8" width="3.3" height="14.7" fill="#ef5350"/><rect x="432.91" y="199.2" width="3.3" height="1.6" fill="#2962ff"/><rect x="437.59" y="189.2" width="3.3" height="10.5" fill="#2962ff"/><rect x="442.26" y="189.2" width="3.3" height="3.3" fill="#ef5350"/><rect x="446.94" y="166.3" width="3.3" height="26.2" fill="#2962ff"/><rect x="451.61" y="166.3" width="3.3" height="14" fill="#ef5350"/><rect x="456.29" y="167" width="3.3" height="13.3" fill="#2962ff"/><rect x="460.97" y="166.7" width="3.3" height="1.3" fill="#ef5350"/><rect x="465.64" y="129.7" width="3.3" height="38.3" fill="#2962ff"/><rect x="470.32" y="129.7" width="3.3" height="7.3" fill="#ef5350"/><rect x="474.99" y="131.3" width="3.3" height="5.7" fill="#2962ff"/><rect x="479.67" y="127.2" width="3.3" height="4.5" fill="#2962ff"/><rect x="484.34" y="108.3" width="3.3" height="19.7" fill="#2962ff"/><rect x="489.02" y="94.7" width="3.3" height="14" fill="#2962ff"/><rect x="493.7" y="94.7" width="3.3" height="30.6" fill="#ef5350"/><rect x="498.37" y="125" width="3.3" height="13.7" fill="#ef5350"/><rect x="503.05" y="133" width="3.3" height="5.7" fill="#2962ff"/><rect x="507.72" y="133" width="3.3" height="4.5" fill="#ef5350"/><rect x="512.4" y="118" width="3.3" height="19.5" fill="#2962ff"/><rect x="517.07" y="118" width="3.3" height="23.3" fill="#ef5350"/><rect x="521.75" y="140.8" width="3.3" height="17.2" fill="#ef5350"/><rect x="526.43" y="138.7" width="3.3" height="19.3" fill="#2962ff"/><rect x="531.1" y="125" width="3.3" height="14.2" fill="#2962ff"/><rect x="535.78" y="125" width="3.3" height="3.7" fill="#ef5350"/><rect x="540.45" y="128.3" width="3.3" height="5.4" fill="#ef5350"/><rect x="545.13" y="133" width="3.3" height="3.7" fill="#ef5350"/><rect x="549.8" y="117" width="3.3" height="19.7" fill="#2962ff"/><rect x="554.48" y="116.7" width="3.3" height="3" fill="#ef5350"/><rect x="559.16" y="119.2" width="3.3" height="13.5" fill="#ef5350"/><rect x="563.83" y="132.5" width="3.3" height="4.3" fill="#ef5350"/><rect x="568.51" y="132.2" width="3.3" height="3.8" fill="#2962ff"/><rect x="573.18" y="117" width="3.3" height="15.5" fill="#2962ff"/><rect x="577.86" y="83" width="3.3" height="34" fill="#2962ff"/><rect x="582.53" y="83" width="3.3" height="4.5" fill="#ef5350"/><rect x="587.21" y="87.5" width="3.3" height="16.5" fill="#ef5350"/><rect x="591.89" y="103.8" width="3.3" height="1.2" fill="#ef5350"/><rect x="596.56" y="104.2" width="3.3" height="5.6" fill="#ef5350"/><rect x="601.24" y="107.6" width="3.3" height="2.2" fill="#2962ff"/><rect x="605.91" y="98.3" width="3.3" height="9.7" fill="#2962ff"/><rect x="610.59" y="98.3" width="3.3" height="16.4" fill="#ef5350"/><rect x="615.26" y="114.2" width="3.3" height="29.5" fill="#ef5350"/><rect x="619.94" y="140.8" width="3.3" height="2.9" fill="#2962ff"/><rect x="624.62" y="140.8" width="3.3" height="30.9" fill="#ef5350"/><rect x="629.29" y="160.8" width="3.3" height="10.9" fill="#2962ff"/><rect x="633.97" y="146.7" width="3.3" height="14.6" fill="#2962ff"/><rect x="638.64" y="146.7" width="3.3" height="9.6" fill="#ef5350"/><rect x="643.32" y="155.8" width="3.3" height="22.2" fill="#ef5350"/><rect x="647.99" y="165.8" width="3.3" height="12.2" fill="#2962ff"/><rect x="652.67" y="165.8" width="3.3" height="4.2" fill="#ef5350"/><rect x="657.35" y="153" width="3.3" height="17" fill="#2962ff"/><rect x="662.02" y="153" width="3.3" height="48.3" fill="#ef5350"/><rect x="666.7" y="192" width="3.3" height="9.7" fill="#2962ff"/><rect x="671.37" y="168.3" width="3.3" height="23.7" fill="#2962ff"/><rect x="676.05" y="164.2" width="3.3" height="4.5" fill="#2962ff"/><rect x="680.72" y="164.2" width="3.3" height="7" fill="#ef5350"/><rect x="685.4" y="169.2" width="3.3" height="2" fill="#2962ff"/><rect x="690.08" y="169.2" width="3.3" height="6.6" fill="#ef5350"/><rect x="694.75" y="175.3" width="3.3" height="27.3" fill="#ef5350"/><rect x="699.43" y="202.5" width="3.3" height="45" fill="#ef5350"/><rect x="704.1" y="244.7" width="3.3" height="2.8" fill="#2962ff"/><rect x="708.78" y="233.7" width="3.3" height="11" fill="#2962ff"/><rect x="713.45" y="232.5" width="3.3" height="1.2" fill="#2962ff"/><rect x="718.13" y="232.5" width="3.3" height="1.2" fill="#ef5350"/><rect x="722.81" y="233.7" width="3.3" height="31" fill="#ef5350"/><rect x="727.48" y="264.2" width="3.3" height="5" fill="#ef5350"/><rect x="732.16" y="244.7" width="3.3" height="24" fill="#2962ff"/><rect x="736.83" y="237.5" width="3.3" height="7.2" fill="#2962ff"/><rect x="741.51" y="237.5" width="3.3" height="36.2" fill="#ef5350"/><rect x="746.18" y="255.8" width="3.3" height="17.9" fill="#2962ff"/><rect x="750.86" y="250.8" width="3.3" height="5" fill="#2962ff"/><rect x="755.54" y="250.8" width="3.3" height="13" fill="#ef5350"/><rect x="760.21" y="263.7" width="3.3" height="16.3" fill="#ef5350"/><rect x="764.89" y="272" width="3.3" height="8" fill="#2962ff"/><rect x="769.56" y="272" width="3.3" height="2.2" fill="#ef5350"/><rect x="774.24" y="271.3" width="3.3" height="2.9" fill="#2962ff"/><rect x="778.91" y="250" width="3.3" height="21.7" fill="#2962ff"/><rect x="783.59" y="250" width="3.3" height="3.7" fill="#ef5350"/><rect x="788.27" y="229.7" width="3.3" height="24" fill="#2962ff"/><rect x="792.94" y="229.15" width="3.3" height="1.2" fill="#ef5350"/><rect x="797.62" y="229.7" width="3.3" height="5.3" fill="#ef5350"/><rect x="802.29" y="230" width="3.3" height="4.7" fill="#2962ff"/><rect x="806.97" y="230" width="3.3" height="1.3" fill="#ef5350"/><rect x="811.64" y="230.8" width="3.3" height="33.9" fill="#ef5350"/><rect x="816.32" y="264.2" width="3.3" height="12" fill="#ef5350"/><rect x="820.99" y="268.8" width="3.3" height="7.4" fill="#2962ff"/><rect x="825.67" y="268.8" width="3.3" height="10.7" fill="#ef5350"/><rect x="830.35" y="262" width="3.3" height="17.5" fill="#2962ff"/><rect x="835.02" y="262" width="3.3" height="5.5" fill="#ef5350"/><rect x="839.7" y="267.2" width="3.3" height="9.5" fill="#ef5350"/><rect x="844.37" y="276.3" width="3.3" height="7" fill="#ef5350"/><rect x="849.05" y="283" width="3.3" height="28.3" fill="#ef5350"/><rect x="853.72" y="311.3" width="3.3" height="4" fill="#ef5350"/><rect x="858.4" y="315" width="3.3" height="19.2" fill="#ef5350"/><rect x="863.08" y="333" width="3.3" height="1.3" fill="#2962ff"/><rect x="867.75" y="330.3" width="3.3" height="3" fill="#2962ff"/><rect x="872.43" y="329.9" width="3.3" height="1.2" fill="#ef5350"/><rect x="877.1" y="319.7" width="3.3" height="11.1" fill="#2962ff"/><rect x="881.78" y="305" width="3.3" height="14.7" fill="#2962ff"/><rect x="886.45" y="305" width="3.3" height="17" fill="#ef5350"/><rect x="891.13" y="315.8" width="3.3" height="6.2" fill="#2962ff"/><rect x="895.81" y="314.7" width="3.3" height="1.3" fill="#2962ff"/><rect x="900.48" y="314.65" width="3.3" height="1.2" fill="#ef5350"/><rect x="905.16" y="315.3" width="3.3" height="11.4" fill="#ef5350"/><rect x="909.83" y="324.2" width="3.3" height="2.5" fill="#2962ff"/><rect x="914.51" y="324.2" width="3.3" height="8.8" fill="#ef5350"/><rect x="919.18" y="332.5" width="3.3" height="13.3" fill="#ef5350"/><rect x="923.86" y="345.3" width="3.3" height="56.4" fill="#ef5350"/><rect x="928.54" y="401.7" width="3.3" height="20.3" fill="#ef5350"/><rect x="933.21" y="404.2" width="3.3" height="17.8" fill="#2962ff"/><rect x="937.89" y="398.7" width="3.3" height="6" fill="#2962ff"/><rect x="942.56" y="395" width="3.3" height="3.8" fill="#2962ff"/><rect x="947.24" y="395" width="3.3" height="1.7" fill="#ef5350"/><rect x="951.91" y="392" width="3.3" height="4.7" fill="#2962ff"/><rect x="956.59" y="384.2" width="3.3" height="8.3" fill="#2962ff"/><rect x="961.27" y="378" width="3.3" height="6.7" fill="#2962ff"/><rect x="965.94" y="378" width="3.3" height="3.7" fill="#ef5350"/><rect x="970.62" y="374.2" width="3.3" height="7.5" fill="#2962ff"/><rect x="975.29" y="371.3" width="3.3" height="2.9" fill="#2962ff"/><rect x="979.97" y="371.3" width="3.3" height="24.2" fill="#ef5350"/><rect x="984.64" y="389.7" width="3.3" height="5.8" fill="#2962ff"/><rect x="989.32" y="334.2" width="3.3" height="55.5" fill="#2962ff"/><rect x="994" y="334.2" width="3.3" height="2.1" fill="#ef5350"/><rect x="998.67" y="323.7" width="3.3" height="12.6" fill="#2962ff"/><rect x="1003.35" y="306.8" width="3.3" height="17" fill="#2962ff"/><rect x="1008.02" y="304.3" width="3.3" height="2.8" fill="#2962ff"/><rect x="1012.7" y="300" width="3.3" height="4.3" fill="#2962ff"/><rect x="1017.37" y="300" width="3.3" height="11.3" fill="#ef5350"/><rect x="1022.05" y="310.7" width="3.3" height="1.2" fill="#ef5350"/></g></g>
<g class="xl"><text x="51.83" y="570.9" textLength="8" lengthAdjust="spacingAndGlyphs">19</text><text x="110.11" y="570.9" textLength="13" lengthAdjust="spacingAndGlyphs">Aug</text><text x="182.75" y="570.9" textLength="8" lengthAdjust="spacingAndGlyphs">16</text><text x="255.26" y="570.9" textLength="12.6" lengthAdjust="spacingAndGlyphs">Sep</text><text x="313.67" y="570.9" textLength="8" lengthAdjust="spacingAndGlyphs">13</text><text x="395.63" y="570.9" textLength="12.4" lengthAdjust="spacingAndGlyphs">Oct</text><text x="477.32" y="570.9" textLength="8" lengthAdjust="spacingAndGlyphs">18</text><text x="540.18" y="570.9" textLength="13.2" lengthAdjust="spacingAndGlyphs">Nov</text><text x="608.24" y="570.9" textLength="8" lengthAdjust="spacingAndGlyphs">15</text><text x="680.5" y="570.9" textLength="13.1" lengthAdjust="spacingAndGlyphs">Dec</text><text x="739.16" y="570.9" textLength="8" lengthAdjust="spacingAndGlyphs">13</text><text x="822.9" y="570.9" textLength="18.2" lengthAdjust="spacingAndGlyphs" font-weight="bold">2022</text><text x="902.81" y="570.9" textLength="8" lengthAdjust="spacingAndGlyphs">17</text><text x="970.54" y="570.9" textLength="12.8" lengthAdjust="spacingAndGlyphs">Feb</text><text x="1033.73" y="570.9" textLength="8" lengthAdjust="spacingAndGlyphs">14</text></g>
<rect x="1031" y="306" width="24" height="10.8" rx="1.3" fill="#f23645"/>
<g class="tg"><text x="1034.6" y="314.1" textLength="26" lengthAdjust="spacingAndGlyphs">BTCUSD</text></g>
<g class="hd"><text x="0.9" y="12.5" text-anchor="end">d</text><text x="1.1" y="12.5" textLength="9.3" lengthAdjust="spacingAndGlyphs">ing</text><text x="12.6" y="12.5" textLength="33.8" lengthAdjust="spacingAndGlyphs">published</text><text x="48.6" y="12.5" textLength="8.8" lengthAdjust="spacingAndGlyphs">on</text><text x="60.1" y="12.5" textLength="60.8" lengthAdjust="spacingAndGlyphs">TradingView.com,</text><text x="123.6" y="12.5" textLength="13.1" lengthAdjust="spacingAndGlyphs">Feb</text><text x="140.1" y="12.5" textLength="8.8" lengthAdjust="spacingAndGlyphs">11,</text><text x="152.1" y="12.5" textLength="15.8" lengthAdjust="spacingAndGlyphs">2022</text><text x="171.1" y="12.5" textLength="19.3" lengthAdjust="spacingAndGlyphs">17:22</text><text x="193.1" y="12.5" textLength="14.3" lengthAdjust="spacingAndGlyphs">UTC</text></g>
<g class="lg">
<text x="52" y="29.8" text-anchor="end" textLength="52.6" lengthAdjust="spacingAndGlyphs">S, 1D, BINANCE</text>
<text x="57.3" y="29.8" textLength="36.9" lengthAdjust="spacingAndGlyphs">O<tspan class="r">43495.44</tspan></text>
<text x="98.9" y="29.8" textLength="36.6" lengthAdjust="spacingAndGlyphs">H<tspan class="r">43920.00</tspan></text>
<text x="140.7" y="29.8" textLength="35.1" lengthAdjust="spacingAndGlyphs">L<tspan class="r">42600.00</tspan></text>
<text x="180.6" y="29.8" textLength="36.4" lengthAdjust="spacingAndGlyphs">C<tspan class="r">43446.07</tspan></text>
<text x="221.8" y="29.8" textLength="22.7" lengthAdjust="spacingAndGlyphs" class="r">−49.37</text>
<text x="247.8" y="29.8" textLength="29.2" lengthAdjust="spacingAndGlyphs" class="r">(−0.11%)</text>
</g>
</svg>
<div id="bot"></div>
</body></html>
